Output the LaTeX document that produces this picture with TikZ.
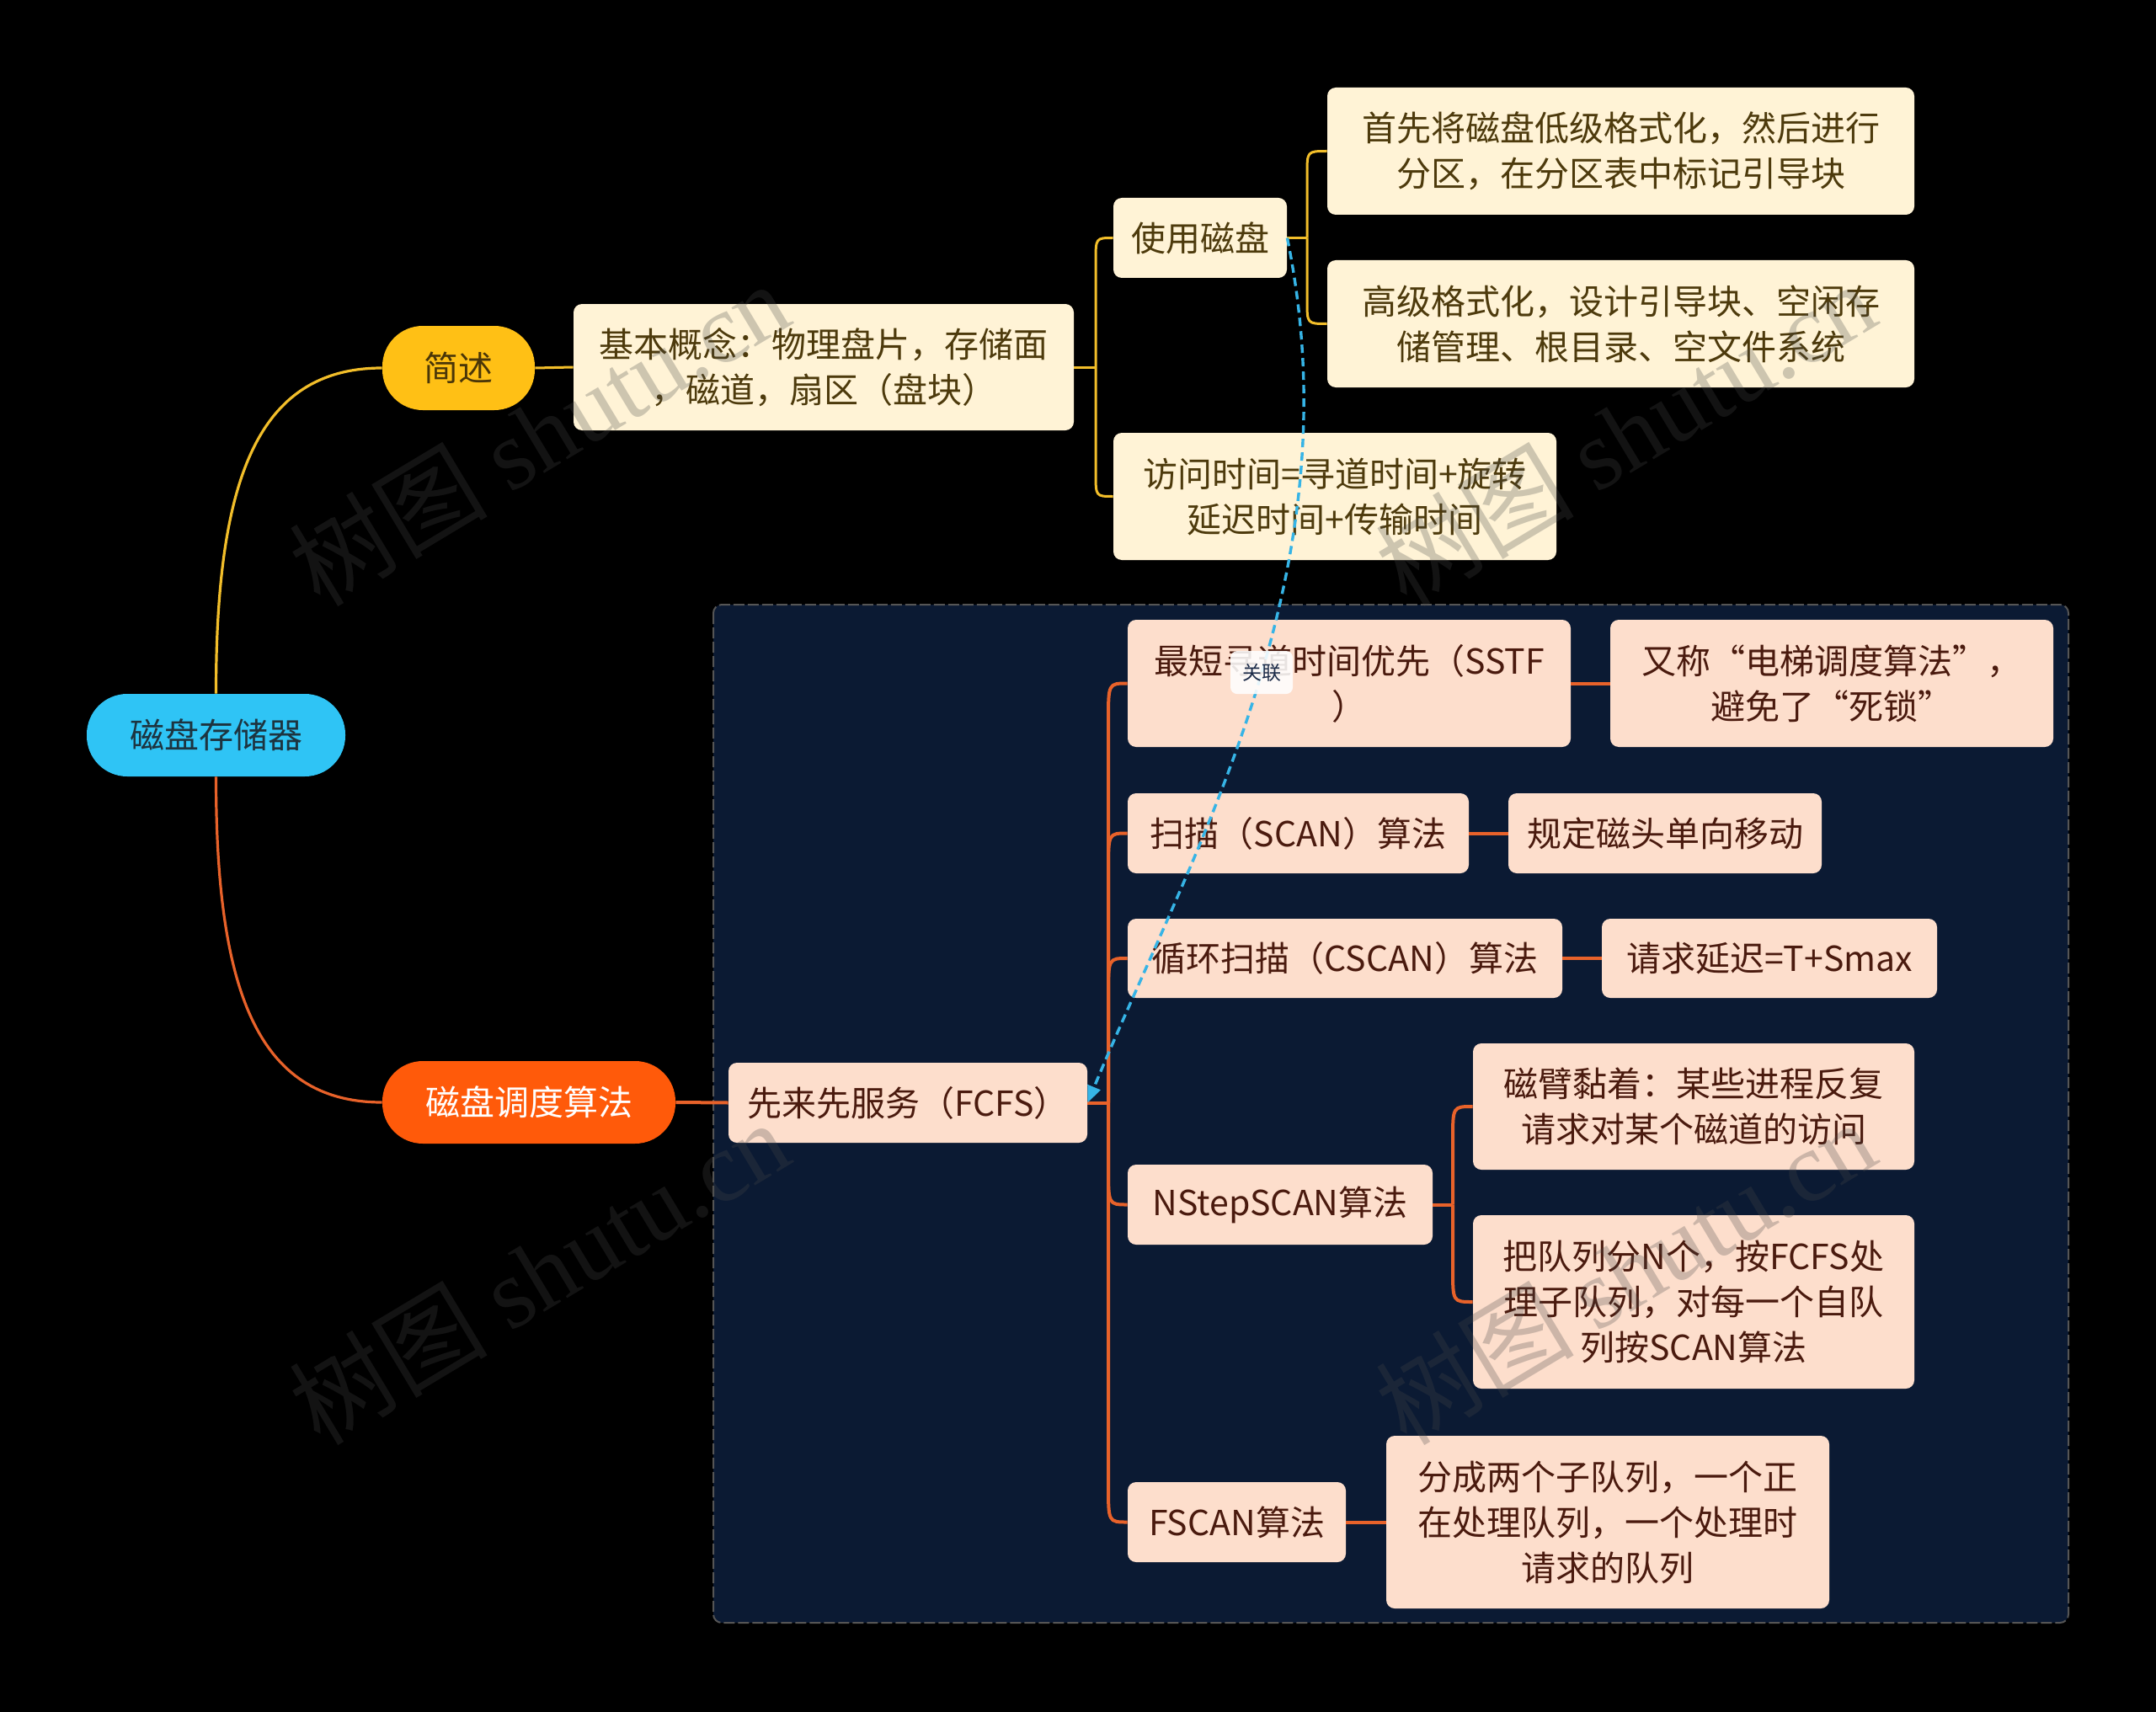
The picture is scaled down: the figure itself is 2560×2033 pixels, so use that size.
\documentclass[tikz,border=0pt]{standalone}
\usepackage{fontspec}
\setmainfont{Noto Sans CJK SC}
\newfontfamily\wmlatin{Liberation Serif}
\usetikzlibrary{arrows.meta}
\definecolor{ylw}{HTML}{F2BE2A}
\definecolor{org}{HTML}{E8622A}
\definecolor{cyanc}{HTML}{2FC4F5}
\definecolor{roottext}{HTML}{1D3440}
\definecolor{ylwfill}{HTML}{FFC015}
\definecolor{jstext}{HTML}{4A3608}
\definecolor{orgfill}{HTML}{FF5A0A}
\definecolor{cream}{HTML}{FFF3D6}
\definecolor{creamtext}{HTML}{4D3A0C}
\definecolor{peach}{HTML}{FDDECC}
\definecolor{peachtext}{HTML}{4A1A0E}
\definecolor{navy}{HTML}{0B1A33}
\definecolor{regborder}{HTML}{555555}
\definecolor{relblue}{HTML}{36B4E6}
\definecolor{lbltext}{HTML}{1C2B48}
\definecolor{wmgray}{HTML}{494949}
\newcommand\bx[7]{\node[#6, minimum width={(#4-#2)*0.5pt}, minimum height={(#5-#3)*0.5pt}] (#1) at ({(#2+#4)/2},{(#3+#5)/2}) {#7};}
\tikzset{
  base/.style={inner sep=0pt, align=center, font=\fontsize{20.5pt}{27pt}\selectfont},
  pill/.style={base, rounded corners=24pt},
  creambox/.style={base, fill=cream, text=creamtext, rounded corners=5pt},
  peachbox/.style={base, fill=peach, text=peachtext, rounded corners=5pt},
  yline/.style={draw=ylw, line width=1.5pt},
  oline/.style={draw=org, line width=2pt},
  rootline/.style={line width=1.6pt},
  region/.style={fill=navy, draw=regborder, line width=1pt, dash pattern=on 6.5pt off 2pt, rounded corners=5pt},
  rel/.style={draw=relblue, line width=1.7pt, dash pattern=on 5pt off 3pt, -{Triangle[length=10pt,width=8pt]}},
  lbl/.style={fill=white, fill opacity=0.88, text opacity=1, text=lbltext, rounded corners=4pt, inner sep=0pt, minimum width=37pt, minimum height=25.5pt, font=\fontsize{11.5pt}{13pt}\selectfont},
  wm/.style={rotate=31, text=wmgray, opacity=0.27, inner sep=0pt, font=\fontsize{59pt}{64pt}\selectfont}
}
\begin{document}
\begin{tikzpicture}[x=0.5pt,y=-0.5pt]
\fill[black] (0,0) rectangle (2560,2033);
\useasboundingbox (0,0) rectangle (2560,2033);
% region
\draw[region] (847,718) rectangle (2456,1927);
% nodes
\bx{root}{103}{824}{410}{922}{pill, fill=cyanc, text=roottext}{磁盘存储器}
\bx{js}{454}{387}{635}{487}{pill, fill=ylwfill, text=jstext}{简述}
\bx{dd}{454}{1260}{802}{1358}{pill, fill=orgfill, text=white}{磁盘调度算法}
\bx{jb}{681}{361}{1275}{511}{creambox}{基本概念：物理盘片，存储面\\，磁道，扇区（盘块）}
\bx{sy}{1322}{235}{1528}{330}{creambox}{使用磁盘}
\bx{fw}{1322}{514}{1848}{665}{creambox}{访问时间=寻道时间+旋转\\延迟时间+传输时间}
\bx{sx}{1576}{104}{2273}{255}{creambox}{首先将磁盘低级格式化，然后进行\\分区，在分区表中标记引导块}
\bx{gj}{1576}{309}{2273}{460}{creambox}{高级格式化，设计引导块、空闲存\\储管理、根目录、空文件系统}
\bx{fcfs}{865}{1262}{1291}{1357}{peachbox}{先来先服务（FCFS）}
\bx{sstf}{1339}{736}{1865}{887}{peachbox}{最短寻道时间优先（SSTF\\）}
\bx{dt}{1912}{736}{2438}{887}{peachbox}{又称“电梯调度算法”，\\避免了“死锁”}
\bx{scan}{1339}{942}{1744}{1037}{peachbox}{扫描（SCAN）算法}
\bx{gd}{1791}{942}{2163}{1037}{peachbox}{规定磁头单向移动}
\bx{cscan}{1339}{1091}{1855}{1185}{peachbox}{循环扫描（CSCAN）算法}
\bx{qq}{1902}{1091}{2300}{1185}{peachbox}{请求延迟=T+Smax}
\bx{nstep}{1339}{1383}{1701}{1478}{peachbox}{NStepSCAN算法}
\bx{cb}{1749}{1239}{2273}{1389}{peachbox}{磁臂黏着：某些进程反复\\请求对某个磁道的访问}
\bx{bd}{1749}{1443}{2273}{1649}{peachbox}{把队列分N个，按FCFS处\\理子队列，对每一个自队\\列按SCAN算法}
\bx{fscan}{1339}{1760}{1598}{1855}{peachbox}{FSCAN算法}
\bx{fc}{1646}{1705}{2172}{1910}{peachbox}{分成两个子队列，一个正\\在处理队列，一个处理时\\请求的队列}
% trunk points
\coordinate (t1) at (1301,436);
\coordinate (t2) at (1552,282.5);
\coordinate (t3) at (1316,1309.5);
\coordinate (t4) at (1725,1430.5);
% root connectors
\draw[rootline, draw=ylw] (root.north) .. controls +(0,-250) and +(-150,0) .. (js.west);
\draw[rootline, draw=org] (root.south) .. controls +(0,250) and +(-150,0) .. (dd.west);
% yellow branch
\draw[yline] (js.east) -- (jb.west);
\draw[yline] (jb.east) -- (t1);
\draw[yline] (t1) -- (1301,310) .. controls (1301,282.5) .. (sy.west);
\draw[yline] (t1) -- (1301,562) .. controls (1301,589.5) .. (fw.west);
\draw[yline] (sy.east) -- (t2);
\draw[yline] (t2) -- (1552,207) .. controls (1552,179.5) .. (sx.west);
\draw[yline] (t2) -- (1552,357) .. controls (1552,384.5) .. (gj.west);
% orange branch
\draw[oline] (dd.east) -- (fcfs.west);
\draw[oline] (fcfs.east) -- (t3);
\draw[oline] (t3) -- (1316,856) .. controls (1316,811.5) .. (sstf.west);
\draw[oline] (t3) -- (1316,1034) .. controls (1316,989.5) .. (scan.west);
\draw[oline] (t3) -- (1316,1183) .. controls (1316,1138) .. (cscan.west);
\draw[oline] (t3) -- (1316,1386) .. controls (1316,1430.5) .. (nstep.west);
\draw[oline] (t3) -- (1316,1763) .. controls (1316,1807.5) .. (fscan.west);
\draw[oline] (nstep.east) -- (t4);
\draw[oline] (t4) -- (1725,1354) .. controls (1725,1314) .. (cb.west);
\draw[oline] (t4) -- (1725,1506) .. controls (1725,1546) .. (bd.west);
\draw[oline] (sstf.east) -- (dt.west);
\draw[oline] (scan.east) -- (gd.west);
\draw[oline] (cscan.east) -- (qq.west);
\draw[oline] (fscan.east) -- (fc.west);
% relationship
\draw[rel] (sy.east) .. controls (1610,680) and (1420,1000) .. (fcfs.east) node[lbl, pos=0.47] (gl) {关联};
% watermarks
\node[wm] (w1) at (640,514) {树图 {\wmlatin shutu.cn}};
\node[wm] (w2) at (640,1510) {树图 {\wmlatin shutu.cn}};
\node[wm] (w3) at (1930,514) {树图 {\wmlatin shutu.cn}};
\node[wm] (w4) at (1930,1510) {树图 {\wmlatin shutu.cn}};
\end{tikzpicture}
\end{document}
